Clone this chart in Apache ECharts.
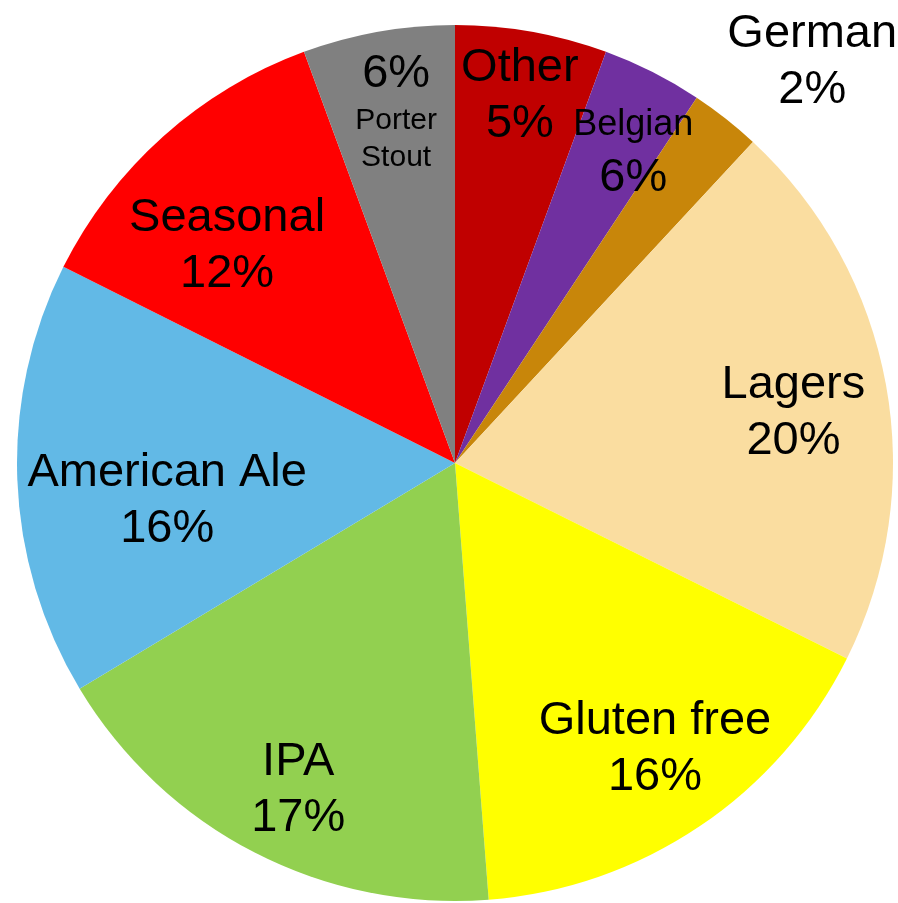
<!DOCTYPE html>
<html><head><meta charset="utf-8">
<script src="https://cdn.jsdelivr.net/npm/echarts@6/dist/echarts.min.js"></script>
<style>html,body{margin:0;padding:0;background:#fff}#c{width:898px;height:903px}</style>
</head><body><div id="c"></div>
<script>
const categories = ['Other','Belgian','German','Lagers','Gluten free','IPA','American Ale','Seasonal','Porter Stout'];
const values = [5.6, 3.7, 2.6, 20.45, 16.4, 17.6, 16.0, 12.0, 5.6];
const pctLabels = ['5%','6%','2%','20%','16%','17%','16%','12%','6%'];
const colors = ['#C00000','#7030A0','#C8860A','#FADDA0','#FFFF00','#92D050','#62B9E6','#FF0000','#808080'];
const labelOffsets = [[26,-148],[78,-112],[220,-226],[120,-10],[76,102],[-55,130],[-66,30],[-80,-51],[-20,-133]];

function fmt(i){
  const n = categories[i], p = pctLabels[i];
  if (n === 'Porter Stout') return '{b|' + p + '}\n{s|Porter}\n{s|Stout}';
  if (n === 'Belgian') return '{m|' + n + '}\n{b|' + p + '}';
  return '{b|' + n + '}\n{b|' + p + '}';
}

const chart = echarts.init(document.getElementById('c'));
chart.setOption({
  animation:false,
  series:[{
    type:'pie',
    center:[455,463],
    radius:438,
    startAngle:90,
    clockwise:true,
    avoidLabelOverlap:false,
    itemStyle:{borderWidth:0},
    label:{
      show:true, position:'inside', color:'#000',
      fontFamily:'Liberation Sans, Arial, sans-serif',
      formatter:p=>fmt(p.dataIndex),
      rich:{
        b:{fontSize:47, lineHeight:56, color:'#000', fontFamily:'Liberation Sans, Arial, sans-serif', align:'center'},
        m:{fontSize:36, lineHeight:50, color:'#000', fontFamily:'Liberation Sans, Arial, sans-serif', align:'center'},
        s:{fontSize:30, lineHeight:37, color:'#000', fontFamily:'Liberation Sans, Arial, sans-serif', align:'center'}
      }
    },
    labelLine:{show:false},
    labelLayout:function(params){
      const o = labelOffsets[params.dataIndex];
      return {dx:o[0], dy:o[1]};
    },
    data:categories.map((c,i)=>({name:c, value:values[i], itemStyle:{color:colors[i]}}))
  }]
});
</script></body></html>
